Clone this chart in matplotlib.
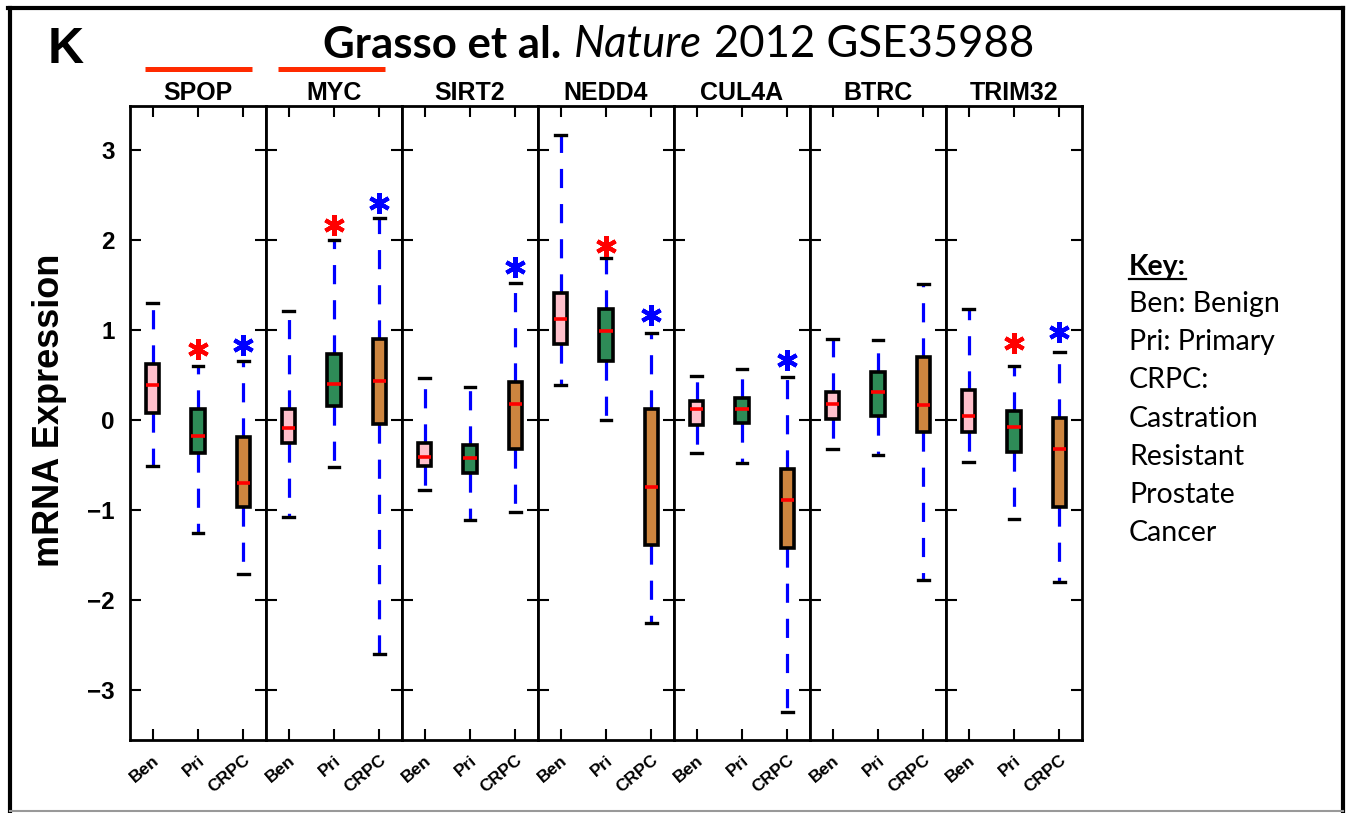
import numpy as np
import matplotlib
matplotlib.use('Agg')
import matplotlib.pyplot as plt
from matplotlib.lines import Line2D

W, H = 1346, 813

# gene panels and groups
genes = ['SPOP', 'MYC', 'SIRT2', 'NEDD4', 'CUL4A', 'BTRC', 'TRIM32']
groups = ['Ben', 'Pri', 'CRPC']
box_colors = ['#ffc0cb', '#2e8b57', '#cd853f']

# box stats per gene, each row is [Ben, Pri, CRPC]
whis_hi = [[1.30, 0.60, 0.66], [1.21, 2.00, 2.25], [0.47, 0.37, 1.52], [3.17, 1.80, 0.97],
           [0.49, 0.57, 0.48], [0.90, 0.89, 1.51], [1.24, 0.60, 0.76]]
q3 = [[0.63, 0.12, -0.19], [0.12, 0.74, 0.90], [-0.25, -0.27, 0.43], [1.41, 1.24, 0.12],
      [0.21, 0.25, -0.54], [0.31, 0.54, 0.70], [0.34, 0.10, 0.02]]
med = [[0.39, -0.17, -0.70], [-0.09, 0.40, 0.44], [-0.41, -0.42, 0.18], [1.12, 0.99, -0.74],
       [0.12, 0.13, -0.88], [0.18, 0.31, 0.17], [0.05, -0.07, -0.32]]
q1 = [[0.08, -0.36, -0.96], [-0.25, 0.16, -0.04], [-0.51, -0.59, -0.32], [0.85, 0.66, -1.38],
      [-0.05, -0.03, -1.42], [0.01, 0.05, -0.13], [-0.13, -0.35, -0.96]]
whis_lo = [[-0.51, -1.25, -1.71], [-1.07, -0.52, -2.60], [-0.77, -1.11, -1.02], [0.39, 0.00, -2.25],
           [-0.36, -0.47, -3.24], [-0.32, -0.38, -1.77], [-0.46, -1.10, -1.79]]

# significance asterisks (Pri in red, CRPC in blue)
star_pri = [0.79, 2.17, np.nan, 1.94, np.nan, np.nan, 0.86]
star_crpc = [0.84, 2.41, 1.70, 1.17, 0.67, np.nan, 0.98]

marked_genes = ['SPOP', 'MYC']
yticks = [-3, -2, -1, 0, 1, 2, 3]

key_title = 'Key:'
key_lines = ['Ben: Benign', 'Pri: Primary', 'CRPC:', 'Castration', 'Resistant', 'Prostate', 'Cancer']

plt.rcParams['font.family'] = ['Liberation Sans', 'DejaVu Sans']

fig = plt.figure(figsize=(W / 100, H / 100), dpi=100)
gs = fig.add_gridspec(1, 7, left=130 / W, right=1082 / W, bottom=1 - 740 / H, top=1 - 106 / H, wspace=0)
axes = [fig.add_subplot(gs[0, i]) for i in range(7)]

for i, ax in enumerate(axes):
    stats = [dict(label=groups[j], med=med[i][j], q1=q1[i][j], q3=q3[i][j],
                  whislo=whis_lo[i][j], whishi=whis_hi[i][j]) for j in range(3)]
    bp = ax.bxp(stats, positions=[1, 2, 3], widths=0.29, capwidths=0.23, showfliers=False,
                patch_artist=True,
                boxprops=dict(edgecolor='black', linewidth=2.6),
                whiskerprops=dict(color='blue', linewidth=2.3, linestyle=(0, (6, 5))),
                capprops=dict(color='black', linewidth=2.4),
                medianprops=dict(color='red', linewidth=2.6))
    for patch, c in zip(bp['boxes'], box_colors):
        patch.set_facecolor(c)
        patch.set_zorder(3)
    for m in bp['medians']:
        m.set_zorder(4)

    ax.plot([2], [star_pri[i]], ls='none', marker=(6, 2, 0), ms=15, mew=3, color='red')
    ax.plot([3], [star_crpc[i]], ls='none', marker=(6, 2, 0), ms=15, mew=3, color='blue')

    ax.set_xlim(0.5, 3.5)
    ax.set_ylim(-3.55, 3.49)
    ax.set_yticks(yticks)
    ax.set_xticks([1, 2, 3])
    ax.set_xticklabels(groups, rotation=40, ha='right', va='top', rotation_mode='anchor',
                       fontsize=12.5, fontweight='bold')
    ax.tick_params(direction='in', top=True, right=True, length=8, width=1.5)
    ax.tick_params(axis='x', pad=9)
    ax.tick_params(axis='y', pad=11, labelsize=17.5)
    if i > 0:
        ax.tick_params(labelleft=False)
    else:
        for lab in ax.get_yticklabels():
            lab.set_fontweight('bold')
    for sp in ax.spines.values():
        sp.set_linewidth(2)
    ax.set_title(genes[i], fontsize=18, fontweight='bold', pad=4)

    if genes[i] in marked_genes:
        x0 = 0.11 if i == 0 else 0.088
        ax.plot([x0, x0 + 0.787], [1.0576, 1.0576], transform=ax.transAxes, clip_on=False,
                color='#ff2a00', lw=3.6, solid_capstyle='butt')

fig.text(48 / W, 1 - 63 / H, 'K', fontsize=36, fontweight='bold', va='baseline')
fig.text(50 / W, 1 - 410 / H, 'mRNA Expression', fontsize=26, fontweight='bold',
         rotation=90, ha='center', va='center')

# title with mixed styles
t1 = fig.text(323 / W, 1 - 58 / H, 'Grasso et al.', fontsize=31.5, fontweight='bold',
              family='Lato', va='baseline')
t2 = axes[0].annotate('Nature', xy=(1, 0), xycoords=t1, xytext=(9, 0), textcoords='offset points',
                      fontsize=31.5, style='italic', family='Lato', va='bottom', annotation_clip=False)
t3 = axes[0].annotate('2012 GSE35988', xy=(1, 0), xycoords=t2, xytext=(9, 0), textcoords='offset points',
                      fontsize=31.5, family='Lato', va='bottom', annotation_clip=False)

# key
kt = fig.text(1129 / W, 1 - 275 / H, key_title, fontsize=20.5, fontweight='bold', family='Lato',
              va='baseline')
for k, line in enumerate(key_lines):
    fig.text(1129 / W, 1 - (312 + 38.2 * k) / H, line, fontsize=20.5, family='Lato', va='baseline')

fig.canvas.draw()
bb = kt.get_window_extent()
fig.add_artist(Line2D([bb.x0 / W, bb.x1 / W], [(H - 279) / H] * 2, color='black', lw=1.6))

# outer frame
fig.add_artist(Line2D([8 / W, 1343 / W], [1 - 8 / H] * 2, color='black', lw=3))
fig.add_artist(Line2D([9.5 / W, 9.5 / W], [1 - 8 / H, 0], color='black', lw=3))
fig.add_artist(Line2D([1343 / W, 1343 / W], [1 - 8 / H, 0], color='black', lw=3))
fig.add_artist(Line2D([9.5 / W, 1343 / W], [1 - 811 / H] * 2, color='#999999', lw=1.5))

fig.savefig('out.png', dpi=100)
